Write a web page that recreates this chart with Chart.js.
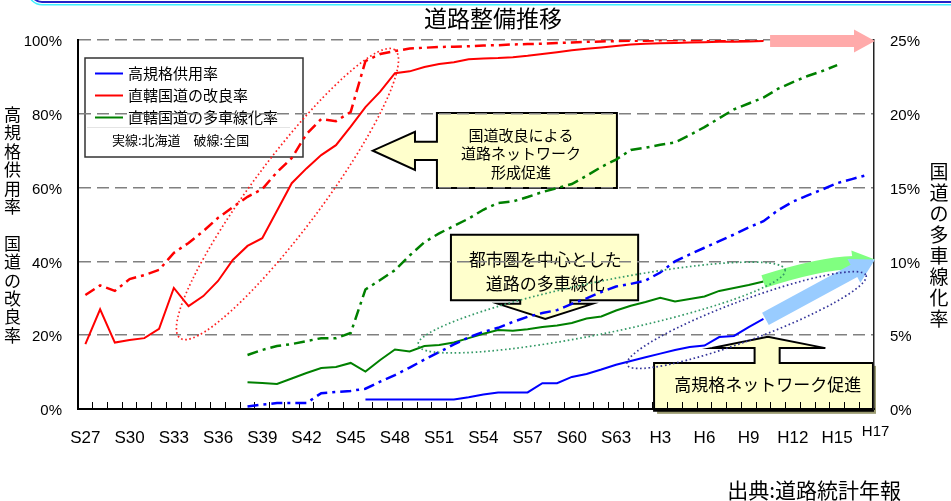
<!DOCTYPE html>
<html>
<head>
<meta charset="utf-8">
<script src="https://cdn.jsdelivr.net/npm/chart.js@4.4.1/dist/chart.umd.min.js"></script>
<style>
  html, body { margin: 0; padding: 0; background: #fff; }
  #wrap { position: relative; width: 951px; height: 501px; overflow: hidden; }
  #band { position: absolute; left: 30px; top: -30px; width: 1000px; height: 29px;
          border: 2px solid #2323c8; border-radius: 12px;
          box-shadow: 0 0 0 1px #fff, 0 0 0 2.5px #3ff0ff; }
  canvas { position: absolute; left: 0; top: 0; }
</style>
</head>
<body>
<div id="wrap">
  <div id="band"></div>
  <canvas id="chart" width="951" height="501"></canvas>
</div>
<script>
// years S27 (1952) .. H17 (2005)
const xLabels = ['S27','S28','S29','S30','S31','S32','S33','S34','S35','S36','S37','S38','S39','S40','S41','S42','S43','S44','S45','S46','S47','S48','S49','S50','S51','S52','S53','S54','S55','S56','S57','S58','S59','S60','S61','S62','S63','H1','H2','H3','H4','H5','H6','H7','H8','H9','H10','H11','H12','H13','H14','H15','H16','H17'];
const shownLabels = ['S27','S30','S33','S36','S39','S42','S45','S48','S51','S54','S57','S60','S63','H3','H6','H9','H12','H15'];
const raisedLabel = 'H17';

const leftTicks = [0, 20, 40, 60, 80, 100];
const rightTicks = [0, 5, 10, 15, 20, 25];

// 直轄国道の改良率 (left axis, %)
const redHokkaido = [17.6,27.0,18.0,18.7,19.2,21.7,32.8,27.9,30.6,34.7,
  40.4,44.2,46.3,53.7,61.2,65.2,68.8,71.5,76.5,81.8,
  86.0,91.0,91.5,92.7,93.5,94.0,94.8,95.0,95.1,95.3,
  95.7,96.2,96.7,97.2,97.6,98.0,98.4,98.8,99.0,99.1,
  99.2,99.3,99.4,99.5,99.5,99.6,99.7,
  null,null,null,null,null,null,null];
const redNational = [30.9,33.5,32.0,35.2,36.3,37.7,42.3,45.0,48.2,51.8,
  54.7,57.5,59.6,64.2,68.0,74.5,78.6,78.0,80.5,94.3,
  96.2,97.0,97.7,97.9,98.1,98.2,98.3,98.5,98.6,98.8,
  98.9,99.0,99.2,99.3,99.5,99.6,99.7,99.8,99.8,99.9,
  99.9,99.9,100,100,100,100,100,
  null,null,null,null,null,null,null];

// 高規格供用率 (left axis, %)
const blueHokkaido = [null,null,null,null,null,null,null,null,null,null,
  null,null,null,null,null,null,null,null,null,2.6,
  2.6,2.6,2.6,2.6,2.6,2.6,3.2,3.9,4.5,4.5,
  4.5,7.0,7.0,8.7,9.5,10.7,12.0,13.0,14.0,15.0,
  16.0,16.8,17.2,19.5,19.8,22.2,24.4,
  null,null,null,null,null,null,null];
const blueNational = [null,null,null,null,null,null,null,null,null,null,
  null,0.7,1.2,1.6,1.6,1.6,4.3,4.6,4.9,5.5,
  7.4,9.2,11.2,13.4,15.4,17.5,19.4,20.9,22.0,23.6,
  25.0,26.0,26.8,28.5,30.0,31.7,33.2,33.9,34.8,37.0,
  40.0,41.9,43.7,45.5,47.3,49.2,50.9,53.9,56.2,57.9,
  59.5,61.2,62.3,63.4];

// 直轄国道の多車線化率 (right axis, %)
const greenHokkaido = [null,null,null,null,null,null,null,null,null,null,
  null,1.81,1.76,1.69,2.07,2.44,2.78,2.85,3.12,2.54,
  3.32,4.03,3.90,4.27,4.34,4.50,4.80,5.10,5.35,5.30,
  5.40,5.55,5.66,5.83,6.13,6.27,6.67,7.00,7.25,7.54,
  7.28,7.45,7.62,8.00,8.20,8.40,8.64,
  null,null,null,null,null,null,null];
const greenNational = [null,null,null,null,null,null,null,null,null,null,
  null,3.66,4.00,4.27,4.40,4.60,4.80,4.80,5.15,8.10,
  8.74,9.40,10.40,11.30,11.90,12.40,12.90,13.50,13.96,14.06,
  14.36,14.70,14.97,15.24,15.80,16.40,16.90,17.55,17.70,17.90,
  18.06,18.56,19.10,19.70,20.30,20.70,21.10,21.70,22.15,22.56,
  22.90,23.30,null,null];

const seriesNames = ['高規格供用率', '直轄国道の改良率', '直轄国道の多車線化率'];
const legendNote = '実線:北海道　破線:全国';
const chartTitle = '道路整備推移';
const leftTitle = '高規格供用率 国道の改良率';
const rightTitle = '国道の多車線化率';
const sourceText = '出典:道路統計年報';
const calloutNetwork = ['国道改良による', '道路ネットワーク', '形成促進'];
const calloutUrban = ['都市圏を中心とした', '道路の多車線化'];
const calloutHighway = ['高規格ネットワーク促進'];

const JP = "'Noto Sans CJK JP', 'Noto Sans', sans-serif";
const NUM = "'Liberation Sans', Arial, sans-serif";
const RED = '#ff0000', BLUE = '#0000ff', GREEN = '#008000';
const DASHDOT = [11, 5, 3, 5];

function lastIndex(arr) {
  for (let i = arr.length - 1; i >= 0; i--) if (arr[i] !== null) return i;
  return -1;
}

function poly(ctx, pts, fill) {
  ctx.beginPath();
  pts.forEach(([x, y], i) => i ? ctx.lineTo(x, y) : ctx.moveTo(x, y));
  ctx.closePath();
  ctx.fillStyle = fill;
  ctx.fill();
  ctx.lineWidth = 2;
  ctx.strokeStyle = '#000';
  ctx.lineJoin = 'miter';
  ctx.stroke();
}

function lines(ctx, texts, x, ys, font) {
  ctx.font = font;
  ctx.fillStyle = '#000';
  ctx.textAlign = 'center';
  ctx.textBaseline = 'middle';
  texts.forEach((t, k) => ctx.fillText(t, x, ys[k]));
}

function vertical(ctx, text, x, y0, step, font) {
  ctx.font = font;
  ctx.fillStyle = '#000';
  ctx.textAlign = 'center';
  ctx.textBaseline = 'middle';
  [...text].forEach((ch, k) => { if (ch !== ' ') ctx.fillText(ch, x, y0 + k * step); });
}

function dottedEllipse(ctx, a, b, ry, color) {
  const cx = (a[0] + b[0]) / 2, cy = (a[1] + b[1]) / 2;
  const rx = Math.hypot(b[0] - a[0], b[1] - a[1]) / 2;
  const rot = Math.atan2(b[1] - a[1], b[0] - a[0]);
  ctx.save();
  ctx.beginPath();
  ctx.ellipse(cx, cy, rx, ry, rot, 0, Math.PI * 2);
  ctx.setLineDash([1.6, 2.6]);
  ctx.lineWidth = 1.7;
  ctx.strokeStyle = color;
  ctx.stroke();
  ctx.restore();
}

function straightArrow(ctx, s, t, half, headLen, headHalf, color) {
  const len = Math.hypot(t[0] - s[0], t[1] - s[1]);
  const ux = (t[0] - s[0]) / len, uy = (t[1] - s[1]) / len;
  const nx = -uy, ny = ux;
  const hx = t[0] - ux * headLen, hy = t[1] - uy * headLen;
  ctx.beginPath();
  ctx.moveTo(s[0] + nx * half, s[1] + ny * half);
  ctx.lineTo(hx + nx * half, hy + ny * half);
  ctx.lineTo(hx + nx * headHalf, hy + ny * headHalf);
  ctx.lineTo(t[0], t[1]);
  ctx.lineTo(hx - nx * headHalf, hy - ny * headHalf);
  ctx.lineTo(hx - nx * half, hy - ny * half);
  ctx.lineTo(s[0] - nx * half, s[1] - ny * half);
  ctx.closePath();
  ctx.fillStyle = color;
  ctx.fill();
}

const decorations = {
  id: 'decorations',
  beforeDraw(chart) {
    const { ctx, scales } = chart;
    const X = i => scales.x.getPixelForValue(i);
    const Y = v => scales.y.getPixelForValue(v);
    ctx.save();

    ctx.fillStyle = '#000';
    ctx.font = `23px ${JP}`;
    ctx.textAlign = 'center';
    ctx.textBaseline = 'middle';
    ctx.fillText(chartTitle, 493, 18);

    vertical(ctx, leftTitle, 12.5, 114.5, 18.4, `17px ${JP}`);
    vertical(ctx, rightTitle, 939, 171.5, 21, `19px ${JP}`);

    ctx.font = `21px ${JP}`;
    ctx.textAlign = 'right';
    ctx.fillText(sourceText, 901, 490);

    // legend box
    const lx = 85, ly = 58, lw = 218, lh = 99;
    ctx.fillStyle = '#fff';
    ctx.fillRect(lx, ly, lw, lh);
    ctx.strokeStyle = '#e4e4e4';
    ctx.lineWidth = 1;
    ctx.beginPath(); ctx.moveTo(lx + 2, 127.5); ctx.lineTo(lx + 205, 127.5); ctx.stroke();
    ctx.strokeStyle = '#333';
    ctx.lineWidth = 1.5;
    ctx.strokeRect(lx, ly, lw, lh);
    const colors = [BLUE, RED, GREEN];
    ctx.font = `15px ${JP}`;
    ctx.textAlign = 'left';
    ctx.textBaseline = 'middle';
    seriesNames.forEach((name, k) => {
      const yy = 73.5 + k * 22;
      ctx.strokeStyle = colors[k];
      ctx.lineWidth = 2;
      ctx.beginPath(); ctx.moveTo(95, yy); ctx.lineTo(123, yy); ctx.stroke();
      ctx.fillStyle = '#000';
      ctx.fillText(name, 128, yy);
    });
    ctx.font = `13px ${JP}`;
    ctx.fillText(legendNote, 112, 140);

    // callout: road network (pointer left)
    {
      const L = X(23.85), R = X(36.06), T = Y(80.2), B = Y(59.9);
      const sT = Y(72.4), sB = Y(67.5), hx = X(22.36), hT = Y(75.1), hB = Y(64.8);
      poly(ctx, [[L, T], [R, T], [R, B], [L, B], [L, sB], [hx, sB], [hx, hB],
                 [X(19.5), Y(70.0)], [hx, hT], [hx, sT], [L, sT]], '#ffffcc');
      lines(ctx, calloutNetwork, X(29.55), [Y(74.3), Y(69.2), Y(64.1)], `15px ${JP}`);
    }
    // callout: urban multi-lane (pointer down)
    {
      const L = X(24.8), R = X(37.5), T = Y(47.2), B = Y(29.5);
      const sL = X(29.5), sR = X(32.9), hy = Y(28.5), hL = X(28.0), hR = X(34.4);
      poly(ctx, [[L, T], [R, T], [R, B], [sR, B], [sR, hy], [hR, hy], [X(31.2), Y(24.4)],
                 [hL, hy], [sL, hy], [sL, B], [L, B]], '#ffffcc');
      lines(ctx, calloutUrban, X(31.2), [Y(40.4), Y(34.0)], `17px ${JP}`);
    }
    // callout: expressway network (pointer up)
    {
      const L = X(38.58), R = X(53.43), T = Y(12.5), B = Y(-0.5);
      const sL = X(45.4), sR = X(47.1), hy = Y(16.5), hL = X(42.5), hR = X(50.2);
      ctx.fillStyle = '#9a9a70';
      ctx.fillRect(L + 3, T + 3, R - L, B - T);
      poly(ctx, [[L, T], [sL, T], [sL, hy], [hL, hy], [X(46.3), Y(19.6)], [hR, hy],
                 [sR, hy], [sR, T], [R, T], [R, B], [L, B]], '#ffffcc');
      lines(ctx, calloutHighway, X(46.3), [Y(6.5)], `17px ${JP}`);
    }
    ctx.restore();
  },
  afterDatasetsDraw(chart) {
    const { ctx, chartArea: a, scales } = chart;
    const X = i => scales.x.getPixelForValue(i);
    const Y = v => scales.y.getPixelForValue(v);
    const YR = v => scales.y1.getPixelForValue(v);
    ctx.save();

    // pink arrow at 100%
    {
      const yc = Y(100) + 1, x0 = X(46.45), tip = a.right + 1, xh = tip - 21;
      ctx.beginPath();
      ctx.moveTo(x0, yc - 6); ctx.lineTo(xh, yc - 6); ctx.lineTo(xh, yc - 11.5);
      ctx.lineTo(tip, yc); ctx.lineTo(xh, yc + 11.5); ctx.lineTo(xh, yc + 6);
      ctx.lineTo(x0, yc + 6); ctx.closePath();
      ctx.fillStyle = '#ffaaaa';
      ctx.fill();
    }

    const tip = [a.right + 1, YR(10) - 2];

    // green curved arrow from last Hokkaido multi-lane point
    {
      const gi = lastIndex(greenHokkaido);
      const p0 = [X(gi), YR(greenHokkaido[gi])];
      const h = [tip[0] - 22, tip[1] + 3];
      const c = [p0[0] + 0.62 * (h[0] - p0[0]), h[1] + 1];
      ctx.beginPath();
      ctx.moveTo(p0[0], p0[1]);
      ctx.quadraticCurveTo(c[0], c[1], h[0] + 1, h[1]);
      ctx.lineWidth = 13;
      ctx.lineCap = 'butt';
      ctx.strokeStyle = '#80ff80';
      ctx.stroke();
      const dx = tip[0] - h[0], dy = tip[1] - h[1], d = Math.hypot(dx, dy);
      const nx = -dy / d, ny = dx / d;
      ctx.beginPath();
      ctx.moveTo(h[0] + nx * 12, h[1] + ny * 12);
      ctx.lineTo(tip[0], tip[1]);
      ctx.lineTo(h[0] - nx * 12, h[1] - ny * 12);
      ctx.closePath();
      ctx.fillStyle = '#80ff80';
      ctx.fill();
    }

    // blue straight arrow from last Hokkaido expressway point
    {
      const bi = lastIndex(blueHokkaido);
      straightArrow(ctx, [X(bi) + 2, Y(blueHokkaido[bi])], tip, 7, 24, 13.5, '#99ccff');
    }

    dottedEllipse(ctx, [X(6.42), Y(19.2)], [X(21.0), Y(97.3)], 35, '#ff2020');
    dottedEllipse(ctx, [X(22.57), Y(17.3)], [X(47.47), Y(37.7)], 26, '#339966');
    dottedEllipse(ctx, [X(36.75), Y(12.0)], [X(52.96), Y(36.2)], 20, '#333399');

    // last year label, set slightly higher as in the source
    ctx.font = `15px ${NUM}`;
    ctx.fillStyle = '#000';
    ctx.textAlign = 'center';
    ctx.textBaseline = 'middle';
    ctx.fillText(raisedLabel, X(xLabels.indexOf(raisedLabel)) + 9, 432);
    ctx.restore();
  }
};

const line = (data, color, dashed, axis) => ({
  data,
  borderColor: color,
  borderWidth: dashed ? 2.5 : 2,
  borderDash: dashed ? DASHDOT : [],
  pointRadius: 0,
  tension: 0,
  fill: false,
  yAxisID: axis
});

new Chart(document.getElementById('chart'), {
  type: 'line',
  data: {
    labels: xLabels,
    datasets: [
      line(redHokkaido, RED, false, 'y'),
      line(redNational, RED, true, 'y'),
      line(blueHokkaido, BLUE, false, 'y'),
      line(blueNational, BLUE, true, 'y'),
      line(greenHokkaido, GREEN, false, 'y1'),
      line(greenNational, GREEN, true, 'y1')
    ]
  },
  options: {
    responsive: false,
    animation: false,
    devicePixelRatio: 1,
    layout: { padding: { top: 40, left: 0, right: 0, bottom: 0 } },
    plugins: {
      legend: { display: false },
      title: { display: false },
      tooltip: { enabled: false }
    },
    scales: {
      x: {
        type: 'category',
        offset: true,
        afterFit: s => { s.height = 92; },
        grid: { display: true, offset: true, drawOnChartArea: false, drawTicks: true,
                tickLength: -7, tickColor: '#000', tickWidth: 1 },
        border: { display: true, color: '#000', width: 2 },
        ticks: {
          autoSkip: false, minRotation: 0, maxRotation: 0, padding: 26,
          color: '#000', font: { family: NUM, size: 17 },
          callback: (v, i) => shownLabels.includes(xLabels[i]) ? xLabels[i] : ''
        }
      },
      y: {
        position: 'left', min: 0, max: 100,
        afterFit: s => { s.width = 78; },
        afterBuildTicks: s => { s.ticks = leftTicks.map(v => ({ value: v })); },
        grid: { drawTicks: false, lineWidth: 1.5,
                color: c => (c.tick && c.tick.value === 0) ? 'rgba(0,0,0,0)' : '#808080' },
        border: { display: true, color: '#000', width: 2, dash: [12, 6] },
        ticks: { padding: 16, labelOffset: 2, color: '#000',
                 font: { family: NUM, size: 15 }, callback: v => v + '%' }
      },
      y1: {
        position: 'right', min: 0, max: 25,
        afterFit: s => { s.width = 77; },
        afterBuildTicks: s => { s.ticks = rightTicks.map(v => ({ value: v })); },
        grid: { display: false, drawTicks: false },
        border: { display: true, color: '#222', width: 1.5 },
        ticks: { padding: 16, labelOffset: 2, color: '#000',
                 font: { family: NUM, size: 15 }, callback: v => v + '%' }
      }
    }
  },
  plugins: [decorations]
});
</script>
</body>
</html>
